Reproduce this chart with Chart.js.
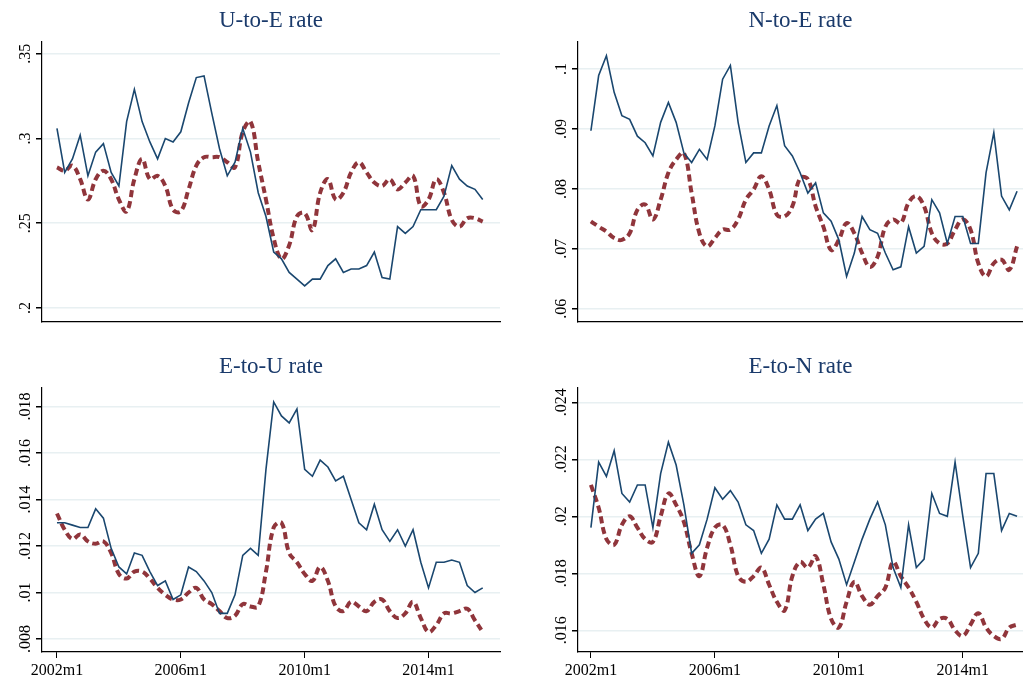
<!DOCTYPE html>
<html lang="en">
<head>
<meta charset="UTF-8" />
<title>Transition rates</title>
<style>
  body { margin: 0; background: #fff; width: 1023px; height: 692px; position: relative; overflow: hidden; }
  .panel { position: absolute; }
</style>
</head>
<body>
<div class="panel" style="left:0;top:0;width:511px;height:340px"><canvas id="ue"></canvas></div>
<div class="panel" style="left:511px;top:0;width:512px;height:340px"><canvas id="ne"></canvas></div>
<div class="panel" style="left:0;top:346px;width:511px;height:346px"><canvas id="eu"></canvas></div>
<div class="panel" style="left:511px;top:346px;width:512px;height:346px"><canvas id="en"></canvas></div>
<script src="https://cdn.jsdelivr.net/npm/chart.js"></script>
<script>
// months since 2002m1, sampled quarterly
const months = [0,3,6,9,12,15,18,21,24,27,30,33,36,39,42,45,48,51,54,57,60,63,66,69,72,75,78,81,84,87,90,93,96,99,102,105,108,111,114,117,120,123,126,129,132,135,138,141,144,147,150,153,156,159,162,165];
const xTickValues = [0, 48, 96, 144];
const xTickLabels = ['2002m1', '2006m1', '2010m1', '2014m1'];

const ueActual = [.306,.280,.288,.302,.278,.292,.297,.280,.272,.310,.329,.310,.298,.288,.300,.298,.304,.321,.336,.337,.315,.294,.278,.286,.306,.292,.268,.254,.233,.229,.221,.217,.213,.217,.217,.225,.229,.221,.223,.223,.225,.233,.218,.217,.248,.244,.248,.258,.258,.258,.266,.284,.276,.272,.270,.264];
const ueModel = [.283,.281,.284,.276,.264,.276,.281,.276,.264,.257,.276,.288,.276,.278,.272,.258,.257,.270,.284,.289,.289,.289,.286,.283,.304,.310,.286,.264,.241,.229,.237,.254,.256,.246,.268,.276,.264,.268,.280,.286,.280,.274,.272,.276,.270,.274,.278,.260,.264,.276,.268,.252,.248,.253,.253,.251];

const neActual = [.0897,.0989,.1022,.0961,.0922,.0916,.0888,.0877,.0855,.0911,.0944,.0911,.0860,.0844,.0866,.0849,.0905,.0983,.1006,.0911,.0844,.0860,.0860,.0905,.0939,.0872,.0855,.0827,.0793,.0810,.0760,.0746,.0715,.0654,.0693,.0754,.0732,.0726,.0693,.0665,.0670,.0737,.0693,.0704,.0782,.0760,.0709,.0754,.0754,.0709,.0709,.0827,.0894,.0788,.0765,.0796];
const neModel = [.0746,.0737,.0729,.0718,.0715,.0726,.0765,.0774,.0749,.0782,.0827,.0849,.0860,.0793,.0726,.0704,.0718,.0732,.0732,.0749,.0782,.0799,.0821,.0799,.0757,.0754,.0771,.0818,.0816,.0771,.0737,.0698,.0715,.0743,.0726,.0693,.0670,.0687,.0737,.0749,.0743,.0777,.0788,.0771,.0726,.0709,.0709,.0732,.0749,.0732,.0676,.0654,.0676,.0682,.0665,.0704];

const euActual = [.0130,.0130,.0129,.0128,.0128,.0136,.0132,.0119,.0111,.0108,.0117,.0116,.0109,.0103,.0105,.0097,.0099,.0111,.0109,.0105,.0100,.0091,.0091,.0099,.0116,.0119,.0116,.0153,.0182,.0176,.0173,.0179,.0153,.0150,.0157,.0154,.0148,.0150,.0140,.0130,.0127,.0138,.0127,.0122,.0127,.0120,.0127,.0113,.0102,.0113,.0113,.0114,.0113,.0103,.0100,.0102];
const euModel = [.0134,.0127,.0123,.0125,.0122,.0121,.0122,.0117,.0108,.0106,.0109,.0109,.0106,.0102,.0099,.0097,.0097,.0100,.0102,.0097,.0095,.0092,.0089,.0090,.0095,.0094,.0094,.0109,.0128,.0130,.0117,.0113,.0108,.0105,.0111,.0105,.0094,.0092,.0096,.0094,.0092,.0096,.0097,.0092,.0089,.0091,.0096,.0089,.0083,.0086,.0091,.0091,.0092,.0093,.0088,.0083];

const enActual = [.0196,.0219,.0214,.0223,.0208,.0205,.0211,.0211,.0196,.0215,.0226,.0218,.0204,.0187,.0190,.0199,.0210,.0206,.0209,.0205,.0197,.0195,.0187,.0192,.0204,.0199,.0199,.0204,.0195,.0199,.0201,.0191,.0185,.0176,.0184,.0192,.0199,.0205,.0197,.0182,.0175,.0197,.0182,.0185,.0208,.0201,.0200,.0219,.0200,.0182,.0187,.0215,.0215,.0195,.0201,.0200];
const enModel = [.0211,.0203,.0192,.0190,.0197,.0200,.0196,.0192,.0191,.0200,.0208,.0204,.0198,.0187,.0179,.0189,.0196,.0197,.0190,.0179,.0177,.0179,.0182,.0176,.0170,.0167,.0179,.0184,.0182,.0186,.0176,.0164,.0161,.0170,.0177,.0172,.0169,.0172,.0175,.0184,.0179,.0175,.0170,.0164,.0161,.0164,.0164,.0160,.0158,.0162,.0166,.0161,.0158,.0157,.0161,.0162];

const BLUE = '#1a476f', RED = '#90353b', GRID = '#e8f0f2';
const FONT = "'Liberation Serif', 'DejaVu Serif', serif";

function pts(vals) { return vals.map((v, i) => ({ x: months[i], y: v })); }

function fmt(v) {
  let s = String(+v.toFixed(4));
  return s.replace(/^0\./, '.');
}

// y tick labels read bottom-to-top, title centred over the plot area
const panelText = {
  id: 'panelText',
  afterDraw(chart, args, opts) {
    const y = chart.scales.y, ctx = chart.ctx, area = chart.chartArea;
    ctx.save();
    ctx.fillStyle = '#1a3a6b';
    ctx.font = '23px ' + FONT;
    ctx.textAlign = 'center';
    ctx.textBaseline = 'middle';
    ctx.fillText(opts.title, (area.left + area.right) / 2, 21);
    ctx.fillStyle = '#000';
    ctx.font = '16px ' + FONT;
    ctx.textBaseline = 'bottom';
    y.ticks.forEach(t => {
      const py = y.getPixelForValue(t.value);
      ctx.save();
      ctx.translate(y.right - 8, py);
      ctx.rotate(-Math.PI / 2);
      ctx.fillText(fmt(t.value), 0, 0);
      ctx.restore();
    });
    ctx.restore();
  }
};

function makeChart(id, title, actual, model, yTicks, yMin, yMax, xMin, xMax, axisW, showX, padRight) {
  new Chart(document.getElementById(id), {
    type: 'line',
    data: {
      datasets: [
        { data: pts(actual), borderColor: BLUE, borderWidth: 1.6, pointRadius: 0, tension: 0 },
        { data: pts(model), borderColor: RED, borderWidth: 4, borderDash: [7, 4], pointRadius: 0, tension: 0.4 }
      ]
    },
    plugins: [panelText],
    options: {
      responsive: true, maintainAspectRatio: false, animation: false,
      layout: { padding: { right: padRight, top: 42 } },
      plugins: {
        legend: { display: false },
        tooltip: { enabled: false },
        title: { display: false },
        panelText: { title: title }
      },
      scales: {
        x: {
          type: 'linear', min: xMin, max: xMax,
          afterBuildTicks: ax => { ax.ticks = xTickValues.map(v => ({ value: v })); },
          afterFit: ax => { ax.height = showX ? 40 : 18; },
          ticks: { display: showX, autoSkip: false, maxRotation: 0, color: '#000', font: { family: FONT, size: 16 },
                   callback: v => xTickLabels[xTickValues.indexOf(v)] },
          grid: { display: true, drawOnChartArea: false, drawTicks: showX, tickLength: 6, color: '#000' },
          border: { color: '#000', width: 1.2 }
        },
        y: {
          min: yMin, max: yMax,
          afterBuildTicks: ax => { ax.ticks = yTicks.map(v => ({ value: v })); },
          afterFit: ax => { ax.width = axisW; },
          ticks: { display: false },
          grid: { color: GRID, lineWidth: 1.5, tickColor: '#000', tickLength: 6 },
          border: { color: '#000', width: 1.2 }
        }
      }
    }
  });
}

makeChart('ue', 'U-to-E rate', ueActual, ueModel, [.2,.25,.3,.35], .1917, .357, -5.8, 171.7, 42, false, 11);
makeChart('ne', 'N-to-E rate', neActual, neModel, [.06,.07,.08,.09,.1], .0578, .1045, -5, 167.3, 67, false, 0);
makeChart('eu', 'E-to-U rate', euActual, euModel, [.008,.01,.012,.014,.016,.018], .00744, .0188, -5.8, 171.7, 42, true, 11);
makeChart('en', 'E-to-N rate', enActual, enModel, [.016,.018,.02,.022,.024], .01524, .0245, -5, 167.3, 67, true, 0);
</script>
</body>
</html>
